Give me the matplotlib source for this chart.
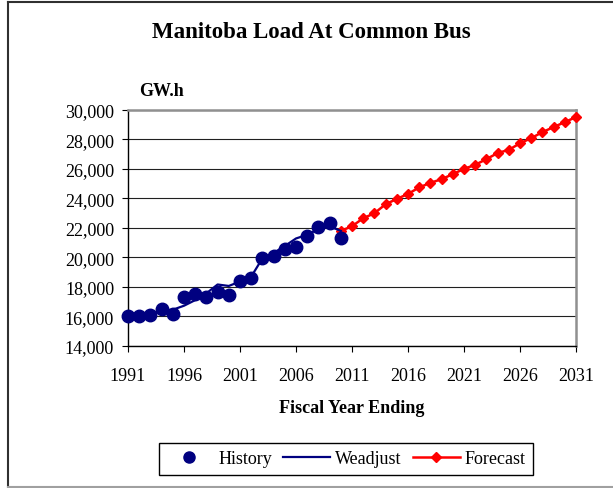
import matplotlib
matplotlib.use("Agg")
import matplotlib.pyplot as plt
from matplotlib.lines import Line2D
from matplotlib.ticker import FuncFormatter

# ---- data ----
hist_years = list(range(1991, 2011))
history = [16000, 16030, 16070, 16480, 16120, 17320, 17500, 17320, 17660, 17430,
           18410, 18610, 19920, 20080, 20580, 20720, 21460, 22030, 22300, 21330]
weadjust = [16000, 16030, 16120, 16350, 16440, 16710, 17090, 17550, 18150, 18050,
            18350, 18680, 19920, 20290, 20760, 21270, 21520, 21900, 22100, 21780]
fc_years = list(range(2010, 2032))
forecast = [21780, 22100, 22640, 22980, 23590, 23950, 24290, 24730, 25040, 25290,
            25630, 25990, 26260, 26650, 27060, 27280, 27720, 28070, 28480, 28820,
            29160, 29500]
x_ticks = list(range(1991, 2032, 5))
y_ticks = list(range(14000, 30001, 2000))

plt.rcParams['font.family'] = ['Liberation Serif', 'DejaVu Serif']

W, H = 613, 489
fig = plt.figure(figsize=(W / 100, H / 100), dpi=100)

def fx(px):
    return px / W

def fy(py):
    return 1 - py / H

# figure border
fig.add_artist(Line2D([fx(8), fx(8)], [fy(3), fy(487.5)], color='#303030', lw=1.5))
fig.add_artist(Line2D([fx(8), 1.0], [fy(3), fy(3)], color='#303030', lw=1.5))
fig.add_artist(Line2D([fx(8), 1.0], [fy(487.5), fy(487.5)], color='#a0a0a0', lw=1.5))

left, right, top, bottom = 128, 576, 110.7, 346.7
ax = fig.add_axes([fx(left), fy(bottom), fx(right) - fx(left), fy(top) - fy(bottom)])

ax.set_xlim(1991, 2031)
ax.set_ylim(14000, 30000)
ax.set_xticks(x_ticks)
ax.set_yticks(y_ticks)
ax.yaxis.set_major_formatter(FuncFormatter(lambda v, p: f"{int(v):,}"))
ax.grid(axis='y', color='#202020', lw=0.8)
ax.set_axisbelow(True)

for s in ['top', 'right']:
    ax.spines[s].set_color('#909090')
    ax.spines[s].set_linewidth(1.8)
for s in ['left', 'bottom']:
    ax.spines[s].set_color('black')
    ax.spines[s].set_linewidth(1.0)

ax.tick_params(axis='both', direction='out', length=4, width=0.8, labelsize=13,
               colors='black', pad=6)
ax.tick_params(axis='x', pad=11)

ax.plot(fc_years, forecast, color='#ff0000', lw=1.8, marker='D', markersize=5,
        markeredgecolor='#ff0000', markerfacecolor='#ff0000', zorder=3, clip_on=False)
ax.plot(hist_years, weadjust, color='#000080', lw=1.6, zorder=4)
ax.plot(hist_years, history, linestyle='none', marker='o', markersize=9,
        color='#000080', zorder=5, clip_on=False)

fig.text(fx(311), fy(33), 'Manitoba Load At Common Bus', ha='center', va='center',
         fontsize=16.5, fontweight='bold')
fig.text(fx(139), fy(91), 'GW.h', ha='left', va='center', fontsize=13, fontweight='bold')
fig.text(fx(352), fy(409), 'Fiscal Year Ending', ha='center', va='center',
         fontsize=13, fontweight='bold')

handles = [
    Line2D([], [], linestyle='none', marker='o', markersize=8, color='#000080'),
    Line2D([], [], color='#000080', lw=1.6),
    Line2D([], [], color='#ff0000', lw=1.8, marker='D', markersize=5),
]
leg = fig.legend(handles, ['History', 'Weadjust', 'Forecast'], loc='center',
                 bbox_to_anchor=(fx(346), fy(460)), ncol=3, fontsize=13,
                 frameon=True, fancybox=False, edgecolor='black', framealpha=1,
                 handlelength=2.6, handletextpad=0.3, columnspacing=0.6,
                 borderpad=0.4)
leg.get_frame().set_linewidth(1.0)

fig.savefig('out.png', dpi=100)
